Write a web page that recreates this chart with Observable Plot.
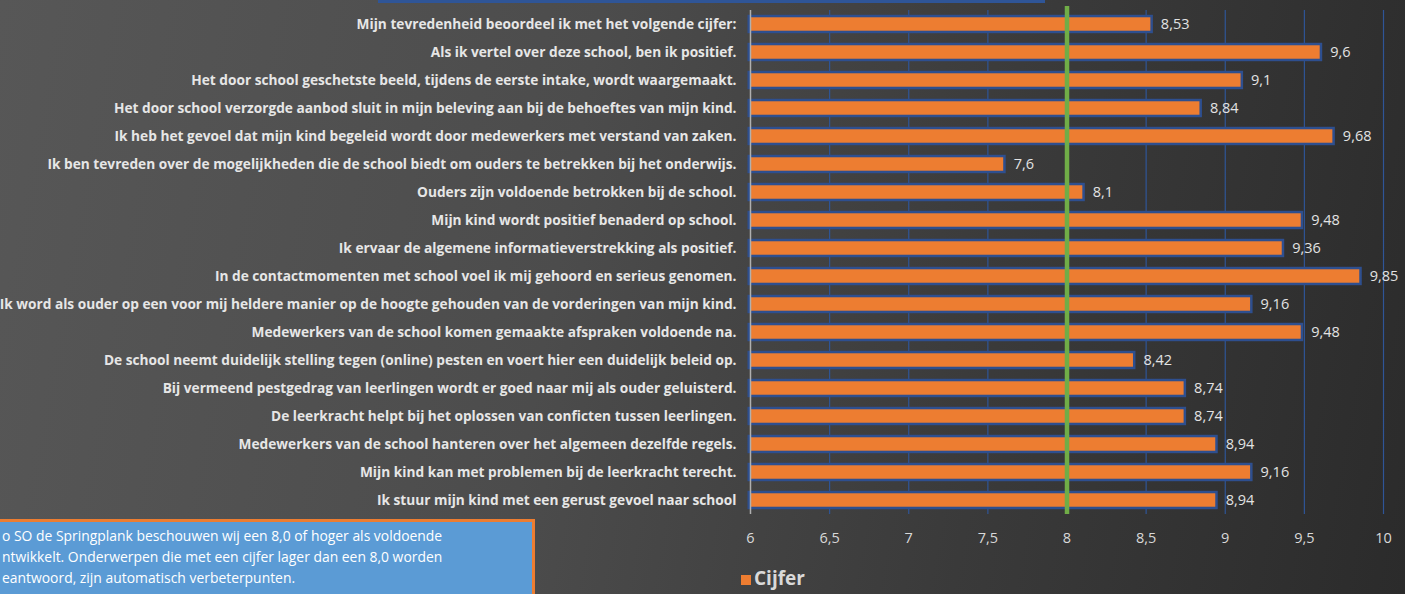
<!DOCTYPE html>
<html>
<head>
<meta charset="utf-8">
<script src="https://cdn.jsdelivr.net/npm/d3@7"></script>
<script src="https://cdn.jsdelivr.net/npm/@observablehq/plot@0.6"></script>
<style>
  html, body { margin: 0; padding: 0; }
  body {
    width: 1405px; height: 594px; overflow: hidden; position: relative;
    background: linear-gradient(100deg, #575757 0%, #4c4c4c 40%, #3a3a3a 70%, #2b2b2b 100%);
    font-family: "Open Sans", Lato, sans-serif;
  }
  #chart { position: absolute; left: 0; top: 0; }
  #topbox { position: absolute; left: 378px; top: -20px; width: 667px; height: 23px;
    border: 3px solid #2f5597; box-sizing: border-box; background: #3b3b3b; }
  #note { position: absolute; left: -10px; top: 519px; width: 545px; height: 100px;
    background: #5b9bd5; border: 3px solid #ed7d31; box-sizing: border-box;
    color: #ffffff; font-size: 13.9px; line-height: 21px; padding: 3px 0 0 9px; white-space: nowrap; }
  #legend { position: absolute; left: 741px; top: 565px; color: #d9d9d9;
    font-weight: bold; font-size: 19px; display: flex; align-items: center; }
  #legend .sw { width: 10px; height: 10px; background: #ed7d31; margin-right: 3px; margin-top: 3px; }
</style>
</head>
<body>
<div id="topbox"></div>
<div id="chart"></div>
<div id="note">o SO de Springplank beschouwen wij een 8,0 of hoger als voldoende<br>ntwikkelt. Onderwerpen die met een cijfer lager dan een 8,0 worden<br>eantwoord, zijn automatisch verbeterpunten.</div>
<div id="legend"><span class="sw"></span><span>Cijfer</span></div>
<script>
const categories = [
  "Mijn tevredenheid beoordeel ik met het volgende cijfer:",
  "Als ik vertel over deze school, ben ik positief.",
  "Het door school geschetste beeld, tijdens de eerste intake, wordt waargemaakt.",
  "Het door school verzorgde aanbod sluit in mijn beleving aan bij de behoeftes van mijn kind.",
  "Ik heb het gevoel dat mijn kind begeleid wordt door medewerkers met verstand van zaken.",
  "Ik ben tevreden over de mogelijkheden die de school biedt om ouders te betrekken bij het onderwijs.",
  "Ouders zijn voldoende betrokken bij de school.",
  "Mijn kind wordt positief benaderd op school.",
  "Ik ervaar de algemene informatieverstrekking als positief.",
  "In de contactmomenten met school voel ik mij gehoord en serieus genomen.",
  "Ik word als ouder op een voor mij heldere manier op de hoogte gehouden van de vorderingen van mijn kind.",
  "Medewerkers van de school komen gemaakte afspraken voldoende na.",
  "De school neemt duidelijk stelling tegen (online) pesten en voert hier een duidelijk beleid op.",
  "Bij vermeend pestgedrag van leerlingen wordt er goed naar mij als ouder geluisterd.",
  "De leerkracht helpt bij het oplossen van conficten tussen leerlingen.",
  "Medewerkers van de school hanteren over het algemeen dezelfde regels.",
  "Mijn kind kan met problemen bij de leerkracht terecht.",
  "Ik stuur mijn kind met een gerust gevoel naar school"
];
const cijfer = [8.53, 9.6, 9.1, 8.84, 9.68, 7.6, 8.1, 9.48, 9.36, 9.85, 9.16, 9.48, 8.42, 8.74, 8.74, 8.94, 9.16, 8.94];
const xTicks = [6, 6.5, 7, 7.5, 8, 8.5, 9, 9.5, 10];
const xMin = 6;
const threshold = 8;

const rows = categories.map((c, i) => ({cat: c, v: cijfer[i], base: xMin}));
const nl = v => String(v).replace(".", ",");

const chart = Plot.plot({
  width: 1405,
  height: 594,
  marginLeft: 750,
  marginRight: 22,
  marginTop: 10,
  marginBottom: 80,
  style: {background: "transparent", fontFamily: "'Open Sans', Lato, sans-serif"},
  x: {domain: [6, 10]},
  y: {domain: categories, paddingInner: 0.52, paddingOuter: 0.26, align: 0.5, round: false},
  marks: [
    Plot.ruleX(xTicks.slice(1), {stroke: "#2f5597", strokeWidth: 1.2}),
    Plot.barX(rows, {y: "cat", x1: "base", x2: "v", fill: "#ed7d31", stroke: "#2e4f8f", strokeWidth: 5, paintOrder: "stroke"}),
    Plot.ruleX([xMin], {stroke: "#b0b0b0", strokeWidth: 1.5}),
    Plot.ruleX([threshold], {stroke: "#70ad47", strokeWidth: 4.5, insetTop: -4}),
    Plot.text(rows, {y: "cat", x: "v", text: d => nl(d.v), textAnchor: "start", dx: 10, fill: "#e3e3e3", fontSize: 14.5}),
    Plot.axisY({tickSize: 0, tickPadding: 14, label: null, fill: "#e6e6e6", fontWeight: "bold", fontSize: 13.7}),
    Plot.axisX({ticks: xTicks, tickSize: 0, tickPadding: 18, tickFormat: nl, label: null, fill: "#d9d9d9", fontSize: 14.5})
  ]
});
document.getElementById("chart").appendChild(chart);
</script>
</body>
</html>
